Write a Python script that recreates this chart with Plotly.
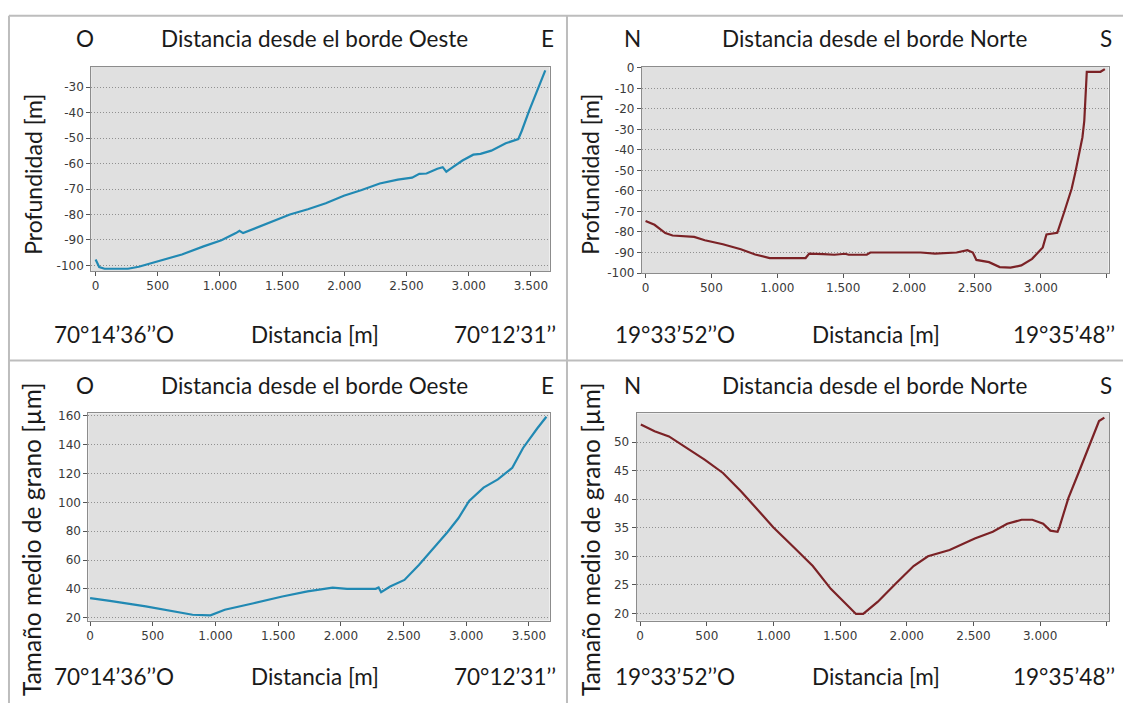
import plotly.graph_objects as go

# ---------------- DATA ----------------
# Top-left: depth profile from the West edge
dist_oeste_prof = [0, 29, 72, 150, 260, 347, 492, 694, 868, 1012, 1128, 1157, 1186, 1273, 1446,
                   1562, 1707, 1851, 1996, 2140, 2285, 2430, 2545, 2603, 2661, 2718, 2748, 2791,
                   2820, 2864, 2950, 3037, 3095, 3182, 3240, 3298, 3399, 3428, 3485, 3558, 3616]
prof_oeste = [-97.7, -100.6, -101.3, -101.4, -101.3, -100.5, -98.6, -95.7, -92.5, -90.1, -87.3,
              -86.4, -87.3, -85.6, -82.1, -80.0, -77.9, -75.6, -72.6, -70.4, -67.8, -66.3, -65.5,
              -64.0, -63.9, -62.5, -62.0, -61.4, -63.2, -61.7, -58.8, -56.5, -56.2, -54.9, -53.6,
              -52.0, -50.4, -47.0, -39.4, -30.3, -23.4]

# Top-right: depth profile from the North edge
dist_norte_prof = [0, 68, 150, 205, 369, 450, 587, 723, 832, 942, 1215, 1242, 1351, 1433, 1515,
                   1542, 1679, 1706, 2088, 2197, 2361, 2443, 2484, 2511, 2607, 2688, 2770, 2852,
                   2934, 3015, 3043, 3125, 3179, 3234, 3261, 3289, 3316, 3330, 3349, 3453, 3486]
prof_norte = [-74.6, -76.5, -80.5, -81.7, -82.4, -84.0, -86.0, -88.4, -91.0, -92.7, -92.7, -90.5,
              -90.8, -91.1, -90.6, -91.1, -91.1, -90.0, -90.0, -90.5, -90.0, -88.9, -90.0, -93.6,
              -94.7, -97.1, -97.4, -96.3, -93.1, -87.5, -81.2, -80.4, -70.0, -58.9, -51.3, -41.7,
              -33.8, -25.8, -1.9, -1.9, -0.6]

# Bottom-left: mean grain size from the West edge
dist_oeste_grano = [0, 158, 444, 673, 817, 960, 1074, 1304, 1533, 1734, 1934, 2049, 2278, 2301,
                    2321, 2393, 2507, 2622, 2736, 2851, 2937, 3023, 3138, 3252, 3367, 3453, 3567, 3639]
grano_oeste = [33.5, 31.7, 27.8, 24.4, 22.0, 21.6, 25.5, 30.0, 34.7, 38.2, 40.9, 40.0, 40.0, 41.0,
               37.7, 41.6, 46.2, 56.6, 68.0, 79.5, 89.0, 101.0, 110.3, 116.0, 124.0, 137.8, 151.5, 159.5]

# Bottom-right: mean grain size from the North edge
dist_norte_grano = [5, 108, 216, 351, 486, 621, 756, 918, 998, 1160, 1295, 1430, 1565, 1619, 1673,
                    1781, 1916, 2051, 2159, 2321, 2510, 2645, 2753, 2861, 2942, 3023, 3077, 3131,
                    3145, 3212, 3293, 3374, 3442, 3482]
grano_norte = [53.1, 51.9, 51.0, 49.0, 46.9, 44.6, 41.4, 37.2, 35.1, 31.4, 28.3, 24.3, 21.2, 19.9,
               19.9, 22.0, 25.2, 28.3, 30.0, 31.1, 33.1, 34.3, 35.7, 36.4, 36.4, 35.7, 34.5, 34.3,
               35.1, 40.2, 44.9, 49.6, 53.7, 54.3]

# Tick values / labels
x_ticks = [0, 500, 1000, 1500, 2000, 2500, 3000, 3500]
x_ticklabels = ["0", "500", "1.000", "1.500", "2.000", "2.500", "3.000", "3.500"]
y_ticks_prof_oeste = [-100, -90, -80, -70, -60, -50, -40, -30]
y_ticks_prof_norte = [-100, -90, -80, -70, -60, -50, -40, -30, -20, -10, 0]
y_ticks_grano_oeste = [20, 40, 60, 80, 100, 120, 140, 160]
y_ticks_grano_norte = [20, 25, 30, 35, 40, 45, 50]

# Texts
titulo_oeste = "Distancia desde el borde Oeste"
titulo_norte = "Distancia desde el borde Norte"
eje_x = "Distancia [m]"
eje_y_prof = "Profundidad [m]"
eje_y_grano = "Tamaño medio de grano [µm]"
coord_oeste = ("70°14’36’’O", "70°12’31’’")
coord_norte = ("19°33’52’’O", "19°35’48’’")

# ---------------- FIGURE ----------------
W, H = 1123, 710
BLUE = "#2189b3"
RED = "#7b2226"
TXT_FONT = "Lato, 'Open Sans', sans-serif"
TICK_FONT = "'DejaVu Sans', sans-serif"


def fx(px):
    return px / W


def fy(py):
    return 1 - py / H


def neg_labels(vals):
    return [str(v) for v in vals]


fig = go.Figure()

panels = [
    ("", (89.4, 548.5), (61.7, 270.0), [-35, 3650], [-102.2, -21.9],
     dist_oeste_prof, prof_oeste, BLUE, y_ticks_prof_oeste),
    ("2", (641.0, 1108.5), (62.2, 272.0), [-28, 3514], [-100, 0.4],
     dist_norte_prof, prof_norte, RED, y_ticks_prof_norte),
    ("3", (86.5, 548.5), (415.0, 626.0), [-14, 3664], [18.0, 161.8],
     dist_oeste_grano, grano_oeste, BLUE, y_ticks_grano_oeste),
    ("4", (635.7, 1109.0), (415.0, 626.0), [-27, 3517], [18.74, 55.04],
     dist_norte_grano, grano_norte, RED, y_ticks_grano_norte),
]

for pid, (x0, x1), (y0, y1), xr, yr, xd, yd, col, yt in panels:
    fig.add_trace(go.Scatter(x=xd, y=yd, mode="lines", line=dict(color=col, width=2.2),
                             xaxis="x" + pid, yaxis="y" + pid, showlegend=False))
    common = dict(showline=True, linecolor="#8c8c8c", linewidth=1, mirror=True,
                  ticks="outside", ticklen=4, tickcolor="#555", tickwidth=1,
                  tickfont=dict(family=TICK_FONT, size=12, color="#3a3a3a"),
                  zeroline=False)
    fig.layout["xaxis" + pid] = dict(domain=[fx(x0), fx(x1)], range=xr, anchor="y" + pid,
                                     tickvals=x_ticks, ticktext=x_ticklabels,
                                     showgrid=False, **common)
    fig.layout["yaxis" + pid] = dict(domain=[fy(y1), fy(y0)], range=yr, anchor="x" + pid,
                                     tickvals=yt, ticktext=neg_labels(yt),
                                     showgrid=True, gridcolor="#909090", griddash="1px,2px",
                                     gridwidth=1, **common)

ann = []


def text(x, y, s, anchor="center", size=22.5, angle=0):
    ann.append(dict(x=fx(x), y=fy(y), xref="paper", yref="paper", text=s, showarrow=False,
                    xanchor=anchor, yanchor="middle", textangle=angle,
                    font=dict(family=TXT_FONT, size=size, color="#1a1a1a")))


# Top-left
text(83, 33, "O")
text(313, 33, titulo_oeste)
text(546, 33, "E")
text(50, 335, coord_oeste[0], "left")
text(314, 335, eje_x)
text(557, 335, coord_oeste[1], "right")
text(31, 171, eje_y_prof, size=23, angle=-90)
# Top-right
text(632, 33, "N")
text(874, 33, titulo_norte)
text(1106, 33, "S")
text(612, 335, coord_norte[0], "left")
text(876, 335, eje_x)
text(1117, 335, coord_norte[1], "right")
text(589, 171, eje_y_prof, size=23, angle=-90)
# Bottom-left
text(83, 387, "O")
text(313, 387, titulo_oeste)
text(546, 387, "E")
text(50, 683, coord_oeste[0], "left")
text(314, 683, eje_x)
text(557, 683, coord_oeste[1], "right")
text(29, 543, eje_y_grano, size=24.5, angle=-90)
# Bottom-right
text(632, 387, "N")
text(874, 387, titulo_norte)
text(1106, 387, "S")
text(612, 683, coord_norte[0], "left")
text(876, 683, eje_x)
text(1117, 683, coord_norte[1], "right")
text(589, 543, eje_y_grano, size=24.5, angle=-90)

# Panel frame lines
BORDER = "#bdbdbd"
shapes = [
    dict(type="line", xref="paper", yref="paper", x0=fx(7), x1=1, y0=fy(10), y1=fy(10),
         line=dict(color=BORDER, width=2)),
    dict(type="line", xref="paper", yref="paper", x0=fx(7), x1=fx(7), y0=fy(10), y1=0,
         line=dict(color=BORDER, width=2)),
    dict(type="line", xref="paper", yref="paper", x0=fx(566), x1=fx(566), y0=fy(10), y1=0,
         line=dict(color=BORDER, width=2)),
    dict(type="line", xref="paper", yref="paper", x0=fx(7), x1=1, y0=fy(361), y1=fy(361),
         line=dict(color=BORDER, width=2)),
]

fig.update_layout(width=W, height=H, margin=dict(l=0, r=0, t=0, b=0),
                  paper_bgcolor="white", plot_bgcolor="#e0e0e0",
                  annotations=ann, shapes=shapes, showlegend=False,
                  separators=",.")

fig.write_html("out.html")
